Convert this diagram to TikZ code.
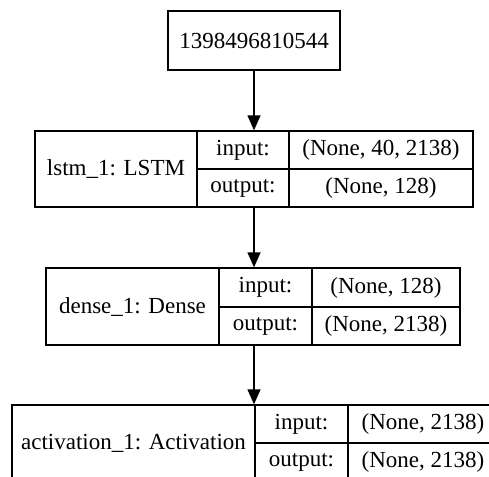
\documentclass[tikz,border=0pt]{standalone}
\usepackage{fontspec}
\setmainfont{Liberation Serif}
\newfontfamily\tnrfont{Liberation Serif}
\usetikzlibrary{arrows.meta}
\begin{document}
\begin{tikzpicture}[x=1pt,y=-1pt,line width=1.3pt,
  every node/.style={font=\tnrfont\fontsize{23}{27}\selectfont, inner sep=0pt},
  cell/.style={rectangle},
  frame/.style={draw, rectangle, inner sep=0pt},
  conn/.style={-{Triangle[length=15pt,width=13pt]}, line width=1.3pt}]
\useasboundingbox (0,0) rectangle (489,476);
\fill[white] (0,0) rectangle (489,476);
% input node
\node[frame, minimum width=172pt, minimum height=59pt] (top) at (254,40.5) {1398496810544};
% lstm
\node[frame, minimum width=438pt, minimum height=76pt] (lstm) at (254,169) {};
\draw (197,131) -- (197,207) (289,131) -- (289,207) (197,169) -- (473,169);
\node[cell] (lstmname) at (116,169) {lstm\_1: LSTM};
\node[cell] (lstmin) at (243,150) {input:};
\node[cell] (lstmout) at (243,188) {output:};
\node[cell] (lstminv) at (381,150) {(None, 40, 2138)};
\node[cell] (lstmoutv) at (381,188) {(None, 128)};
% dense
\node[frame, minimum width=414pt, minimum height=77pt] (dense) at (253,306.5) {};
\draw (219,268) -- (219,345) (312,268) -- (312,345) (219,307) -- (460,307);
\node[cell] (densename) at (132.5,306.5) {dense\_1: Dense};
\node[cell] (densein) at (265.5,287.5) {input:};
\node[cell] (denseout) at (265.5,326) {output:};
\node[cell] (denseinv) at (386,287.5) {(None, 128)};
\node[cell] (denseoutv) at (386,326) {(None, 2138)};
% activation
\node[frame, minimum width=486pt, minimum height=77pt] (act) at (255,443.5) {};
\draw (255,405) -- (255,482) (348,405) -- (348,482) (255,443) -- (498,443);
\node[cell] (actname) at (133.5,443.5) {activation\_1: Activation};
\node[cell] (actin) at (301.5,424) {input:};
\node[cell] (actout) at (301.5,462) {output:};
\node[cell] (actinv) at (423,424) {(None, 2138)};
\node[cell] (actoutv) at (423,462) {(None, 2138)};
% connectors
\draw[conn] (top.south) -- (lstm.north -| top.south);
\draw[conn] (lstm.south) -- (dense.north -| lstm.south);
\draw[conn] (dense.south -| lstm.south) -- (act.north -| lstm.south);
\end{tikzpicture}
\end{document}
